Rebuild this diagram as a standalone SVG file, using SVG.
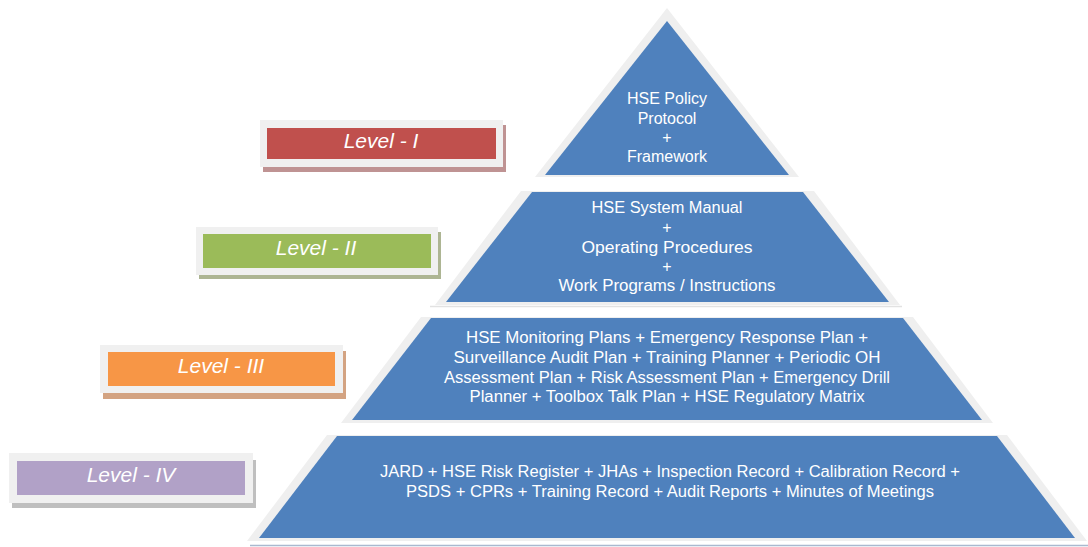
<svg xmlns="http://www.w3.org/2000/svg" width="1088" height="547" viewBox="0 0 1088 547">
<style>
.band{fill:#efefef}
.tier{fill:#4f81bd}
.tt{font-family:"Liberation Sans",Arial,sans-serif;font-size:16px;fill:#ffffff;text-anchor:middle}
.lab{font-family:"Liberation Sans",Arial,sans-serif;font-size:21px;font-style:italic;fill:#ffffff;text-anchor:middle}
.frame{fill:#f0f0f0}
</style>
<rect width="1088" height="547" fill="#ffffff"/>
<g id="tier1">
<polygon class="band" points="667,8 799,177 535,177"/>
<polygon class="tier" points="667,21 789,175 545,175"/>
<text class="tt" x="667" y="104">HSE Policy</text>
<text class="tt" x="667" y="124">Protocol</text>
<text class="tt" x="667" y="143">+</text>
<text class="tt" x="667" y="162">Framework</text>
</g>
<g id="tier2">
<polygon class="band" points="521,191 814,191 900,305 435,305"/>
<polygon class="tier" points="532,192 803,192 889,302 446,302"/>
<line x1="430" y1="306.5" x2="902" y2="306.5" stroke="#e2e2e2" stroke-width="1.5"/>
<text class="tt" x="667" y="213" textLength="151" lengthAdjust="spacingAndGlyphs">HSE System Manual</text>
<text class="tt" x="667" y="233">+</text>
<text class="tt" x="667" y="253" textLength="171" lengthAdjust="spacingAndGlyphs">Operating Procedures</text>
<text class="tt" x="667" y="272">+</text>
<text class="tt" x="667" y="291" textLength="217" lengthAdjust="spacingAndGlyphs">Work Programs / Instructions</text>
</g>
<g id="tier3">
<polygon class="band" points="421,317 913,317 993,423 341,423"/>
<polygon class="tier" points="431,318 903,318 982,420 352,420"/>
<text class="tt" x="667" y="343" textLength="402" lengthAdjust="spacingAndGlyphs">HSE Monitoring Plans + Emergency Response Plan +</text>
<text class="tt" x="667" y="363" textLength="427" lengthAdjust="spacingAndGlyphs">Surveillance Audit Plan + Training Planner + Periodic OH</text>
<text class="tt" x="667" y="383" textLength="446" lengthAdjust="spacingAndGlyphs">Assessment Plan + Risk Assessment Plan + Emergency Drill</text>
<text class="tt" x="667" y="402" textLength="395" lengthAdjust="spacingAndGlyphs">Planner + Toolbox Talk Plan + HSE Regulatory Matrix</text>
</g>
<g id="tier4">
<polygon class="band" points="327,435 1007,435 1087,541 247,541"/>
<polygon class="tier" points="337,436 997,436 1075,538 259,538"/>
<line x1="250" y1="545.5" x2="1088" y2="545.5" stroke="#a9b9cf" stroke-width="1.5"/>
<text class="tt" x="670" y="477" textLength="580" lengthAdjust="spacingAndGlyphs">JARD + HSE Risk Register + JHAs + Inspection Record + Calibration Record +</text>
<text class="tt" x="670" y="497" textLength="528" lengthAdjust="spacingAndGlyphs">PSDS + CPRs + Training Record + Audit Reports + Minutes of Meetings</text>
</g>
<g id="level1">
<rect x="263" y="125" width="243" height="47" fill="#bf9393"/>
<rect class="frame" x="260" y="120" width="243" height="47"/>
<rect x="267" y="128" width="229" height="31" fill="#c0504d"/>
<text class="lab" x="381" y="148">Level - I</text>
</g>
<g id="level2">
<rect x="199" y="232" width="242" height="47" fill="#adb593"/>
<rect class="frame" x="196" y="227" width="242" height="48"/>
<rect x="203" y="234" width="228" height="34" fill="#9bbb59"/>
<text class="lab" x="316" y="255">Level - II</text>
</g>
<g id="level3">
<rect x="103" y="351" width="243" height="48" fill="#d3a382"/>
<rect class="frame" x="100" y="345" width="243" height="48"/>
<rect x="108" y="352" width="227" height="34" fill="#f79646"/>
<text class="lab" x="221" y="373">Level - III</text>
</g>
<g id="level4">
<rect x="12" y="460" width="244" height="48" fill="#bfbfbf"/>
<rect class="frame" x="9" y="453" width="244" height="50"/>
<rect x="17" y="461" width="228" height="34" fill="#b1a1c7"/>
<text class="lab" x="131" y="482">Level - IV</text>
</g>
<g id="connectors"></g>
</svg>
